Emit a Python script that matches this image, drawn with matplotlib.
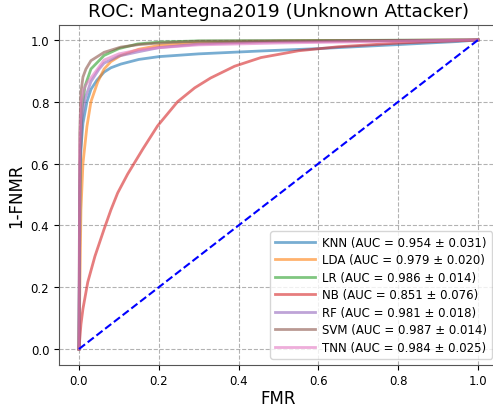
import matplotlib
matplotlib.use("Agg")
import matplotlib.pyplot as plt

labels = ["KNN (AUC = 0.954 ± 0.031)", "LDA (AUC = 0.979 ± 0.020)", "LR (AUC = 0.986 ± 0.014)",
          "NB (AUC = 0.851 ± 0.076)", "RF (AUC = 0.981 ± 0.018)", "SVM (AUC = 0.987 ± 0.014)",
          "TNN (AUC = 0.984 ± 0.025)"]

knn_fmr = [0, 0.002, 0.005, 0.01, 0.02, 0.03, 0.045, 0.063, 0.08, 0.105, 0.15, 0.2, 0.3, 0.45, 0.6, 0.8, 0.95, 1]
knn_tpr = [0, 0.5, 0.65, 0.73, 0.8, 0.84, 0.87, 0.896, 0.91, 0.922, 0.937, 0.946, 0.955, 0.964, 0.972, 0.985, 0.995, 1]

lda_fmr = [0, 0.005, 0.01, 0.02, 0.03, 0.047, 0.063, 0.08, 0.105, 0.15, 0.2, 0.3, 0.5, 1]
lda_tpr = [0, 0.45, 0.6, 0.72, 0.8, 0.864, 0.906, 0.93, 0.95, 0.97, 0.982, 0.99, 0.996, 1]

lr_fmr = [0, 0.003, 0.008, 0.015, 0.03, 0.063, 0.1, 0.147, 0.2, 0.3, 1]
lr_tpr = [0, 0.6, 0.78, 0.85, 0.906, 0.95, 0.972, 0.987, 0.993, 0.997, 1]

nb_fmr = [0, 0.005, 0.01, 0.022, 0.04, 0.063, 0.08, 0.097, 0.122, 0.16, 0.197, 0.247, 0.29, 0.33, 0.39, 0.456, 0.55, 0.65, 0.8, 1]
nb_tpr = [0, 0.08, 0.13, 0.216, 0.3, 0.388, 0.45, 0.505, 0.566, 0.647, 0.722, 0.8, 0.845, 0.877, 0.915, 0.943, 0.965, 0.978, 0.99, 1]

rf_fmr = [0, 0.003, 0.008, 0.015, 0.03, 0.05, 0.063, 0.1, 0.15, 0.2, 0.3, 0.45, 0.7, 1]
rf_tpr = [0, 0.6, 0.75, 0.81, 0.865, 0.905, 0.925, 0.948, 0.962, 0.975, 0.987, 0.993, 0.997, 1]

svm_fmr = [0, 0.002, 0.005, 0.01, 0.0175, 0.03, 0.063, 0.105, 0.15, 0.2, 0.3, 1]
svm_tpr = [0, 0.7, 0.83, 0.88, 0.906, 0.933, 0.96, 0.977, 0.985, 0.99, 0.996, 1]

tnn_fmr = [0, 0.002, 0.006, 0.012, 0.02, 0.03, 0.063, 0.1, 0.15, 0.2, 0.3, 0.5, 0.8, 1]
tnn_tpr = [0, 0.65, 0.8, 0.84, 0.86, 0.877, 0.935, 0.955, 0.968, 0.975, 0.984, 0.99, 0.996, 1]

chance = [0, 1]

series = [(knn_fmr, knn_tpr), (lda_fmr, lda_tpr), (lr_fmr, lr_tpr), (nb_fmr, nb_tpr),
          (rf_fmr, rf_tpr), (svm_fmr, svm_tpr), (tnn_fmr, tnn_tpr)]
colors = ["tab:blue", "tab:orange", "tab:green", "tab:red", "tab:purple", "tab:brown", "tab:pink"]

fig = plt.figure(figsize=(4.93, 4.10), dpi=100)
ax = fig.add_axes([59/493, 44.5/410, 439/493, 340/410])

for (x, y), c, lab in zip(series, colors, labels):
    ax.plot(x, y, color=c, lw=2, alpha=0.6, label=lab)
ax.plot(chance, chance, linestyle="--", color="blue", lw=1.5)

ax.set_xlim(-0.05, 1.05)
ax.set_ylim(-0.05, 1.05)
ax.set_xticks([0, 0.2, 0.4, 0.6, 0.8, 1.0])
ax.set_yticks([0, 0.2, 0.4, 0.6, 0.8, 1.0])
ax.tick_params(labelsize=8.5)
ax.grid(True, linestyle="--", color="gray", alpha=0.6)
for s in ax.spines.values():
    s.set_color("#555555")
ax.set_title("ROC: Mantegna2019 (Unknown Attacker)", fontsize=13.3)
ax.set_xlabel("FMR", fontsize=12, labelpad=1)
ax.set_ylabel("1-FNMR", fontsize=12)
ax.legend(loc="lower right", fontsize=8.5, handlelength=3.4, handletextpad=0.6,
          labelspacing=0.38, borderpad=0.4)

fig.savefig("out.png", dpi=100)
